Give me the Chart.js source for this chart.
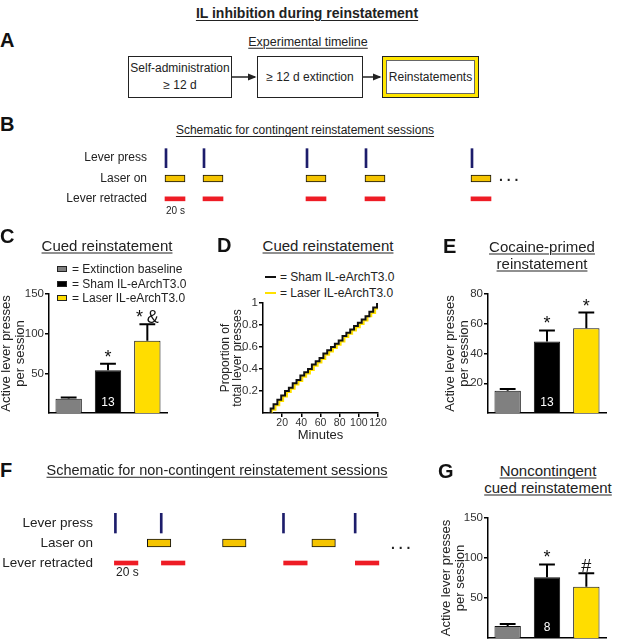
<!DOCTYPE html>
<html>
<head>
<meta charset="utf-8">
<script src="https://cdn.jsdelivr.net/npm/chart.js@4.4.0/dist/chart.umd.min.js"></script>
<style>
body { margin: 0; background: #fff; }
#fig { position: relative; width: 626px; height: 639px; overflow: hidden; font-family: "Liberation Sans", Arial, sans-serif; color: #222; }
.t { position: absolute; white-space: nowrap; line-height: 1; }
.c { transform: translate(-50%, -50%); text-align: center; }
.l { transform: translateY(-50%); }
.u { text-decoration: underline; text-underline-offset: 2px; text-decoration-thickness: 1px; }
.p { font-weight: bold; font-size: 20px; color: #111; }
.box { position: absolute; border: 1.5px solid #222; box-sizing: border-box; display: flex; align-items: center; justify-content: center; text-align: center; font-size: 12px; line-height: 1.4; white-space: nowrap; }
.sw { position: absolute; width: 10px; height: 6px; border: 1px solid #222; box-sizing: border-box; }
.ln { position: absolute; width: 11px; height: 2px; }
canvas { position: absolute; }
</style>
</head>
<body>
<div id="fig">
  <div class="t c" style="left:307px;top:13px;font-size:14px;font-weight:bold;text-decoration:underline;text-underline-offset:2px;">IL inhibition during reinstatement</div>

  <!-- A -->
  <div class="t l p" style="left:0;top:40px;">A</div>
  <div class="t c u" style="left:308px;top:42px;font-size:12.5px;">Experimental timeline</div>
  <div class="box" style="left:128px;top:56px;width:104px;height:42px;">Self-administration<br>≥ 12 d</div>
  <div class="box" style="left:257px;top:56px;width:106px;height:42px;">≥ 12 d extinction</div>
  <div style="position:absolute;left:382px;top:56px;width:97px;height:42px;box-sizing:border-box;border:1px solid #222;background:#ffe600;padding:3px;">
    <div style="width:100%;height:100%;box-sizing:border-box;border:1px solid #666;background:#fff;display:flex;align-items:center;justify-content:center;font-size:12px;">Reinstatements</div>
  </div>
  <svg width="626" height="639" style="position:absolute;left:0;top:0;pointer-events:none;">
    <defs><marker id="ah" markerWidth="6" markerHeight="6" refX="5" refY="3" orient="auto"><path d="M0,0.5 L6,3 L0,5.5 z" fill="#222"/></marker></defs>
    <line x1="232" y1="77" x2="255" y2="77" stroke="#222" stroke-width="1.5" marker-end="url(#ah)"/>
    <line x1="363" y1="77" x2="380" y2="77" stroke="#222" stroke-width="1.5" marker-end="url(#ah)"/>
  </svg>

  <!-- B -->
  <div class="t l p" style="left:0;top:124px;">B</div>
  <div class="t c u" style="left:305px;top:130px;font-size:12px;">Schematic for contingent reinstatement sessions</div>
  <canvas id="chartB" width="560" height="66" style="left:0;top:145px;"></canvas>
  <div class="t l" style="left:166px;top:211px;font-size:10px;">20 s</div>
  <div class="t l" style="left:499px;top:176px;font-size:14px;font-weight:bold;">. . .</div>

  <!-- C -->
  <div class="t l p" style="left:0;top:236px;">C</div>
  <div class="t c u" style="left:107px;top:245px;font-size:15px;">Cued reinstatement</div>
  <div class="sw" style="left:57px;top:266px;background:#808080;"></div>
  <div class="t l" style="left:72px;top:269px;font-size:12px;">= Extinction baseline</div>
  <div class="sw" style="left:57px;top:281px;background:#000;"></div>
  <div class="t l" style="left:72px;top:284px;font-size:12px;">= Sham IL-eArchT3.0</div>
  <div class="sw" style="left:57px;top:295px;background:#ffdd00;"></div>
  <div class="t l" style="left:72px;top:298px;font-size:12px;">= Laser IL-eArchT3.0</div>
  <canvas id="chartC" width="175" height="133" style="left:0;top:285px;"></canvas>

  <!-- D -->
  <div class="t l p" style="left:217px;top:245px;">D</div>
  <div class="t c u" style="left:328px;top:245px;font-size:15px;">Cued reinstatement</div>
  <div class="ln" style="left:265px;top:276px;background:#111;"></div>
  <div class="t l" style="left:280px;top:277px;font-size:12px;">= Sham IL-eArchT3.0</div>
  <div class="ln" style="left:265px;top:292px;background:#ffe100;"></div>
  <div class="t l" style="left:280px;top:293px;font-size:12px;">= Laser IL-eArchT3.0</div>
  <canvas id="chartD" width="200" height="150" style="left:200px;top:295px;"></canvas>

  <!-- E -->
  <div class="t l p" style="left:443px;top:246px;">E</div>
  <div class="t c u" style="left:542px;top:246px;font-size:15px;">Cocaine-primed</div>
  <div class="t c u" style="left:542px;top:263px;font-size:15px;">reinstatement</div>
  <canvas id="chartE" width="226" height="133" style="left:400px;top:285px;"></canvas>

  <!-- F -->
  <div class="t l p" style="left:0;top:470px;">F</div>
  <div class="t c u" style="left:217px;top:470px;font-size:14.5px;">Schematic for non-contingent reinstatement sessions</div>
  <canvas id="chartF" width="430" height="76" style="left:0;top:505px;"></canvas>
  <div class="t l" style="left:116px;top:572px;font-size:12px;">20 s</div>
  <div class="t l" style="left:391px;top:544px;font-size:14px;font-weight:bold;">. . .</div>

  <!-- G -->
  <div class="t l p" style="left:438px;top:471px;">G</div>
  <div class="t c u" style="left:548px;top:470px;font-size:15px;">Noncontingent</div>
  <div class="t c u" style="left:548px;top:487px;font-size:15px;">cued reinstatement</div>
  <canvas id="chartG" width="226" height="130" style="left:400px;top:509px;"></canvas>
</div>

<script>
// groups shared by the bar panels
const groups = ['Extinction baseline', 'Sham IL-eArchT3.0', 'Laser IL-eArchT3.0'];
const barFill = ['#808080', '#000000', '#ffdd00'];

// C: cued reinstatement
const cuedMean = [18, 54, 91];
const cuedSem = [1.5, 8, 21];
const cuedSig = ['', '*', '*\u2009&'];
const cuedN = ['', '13', ''];

// E: cocaine-primed reinstatement
const cocMean = [15, 48, 57];
const cocSem = [1.2, 7.5, 10.5];
const cocSig = ['', '*', '*'];
const cocN = ['', '13', ''];

// G: noncontingent cued reinstatement
const ncMean = [15, 76, 64];
const ncSem = [2.5, 16, 17];
const ncSig = ['', '*', '#'];
const ncN = ['', '8', ''];

// D: cumulative proportion of lever presses (minutes)
const shamMin = [5, 8, 11, 15, 19, 23, 27, 31, 35, 39, 43, 47, 51, 55, 59, 63, 67, 71, 75, 79, 83, 87, 91, 95, 99, 103, 107, 111, 115, 119];
const shamProp = [0.0, 0.04, 0.08, 0.12, 0.16, 0.20, 0.23, 0.27, 0.30, 0.34, 0.37, 0.40, 0.44, 0.47, 0.50, 0.54, 0.57, 0.60, 0.63, 0.66, 0.70, 0.73, 0.76, 0.79, 0.82, 0.85, 0.88, 0.92, 0.96, 1.0];
const laserMin = [6, 9, 13, 17, 21, 25, 29, 33, 37, 41, 45, 49, 53, 57, 61, 65, 69, 73, 77, 81, 85, 89, 93, 97, 101, 105, 109, 113, 117, 120];
const laserProp = [0.0, 0.03, 0.07, 0.11, 0.15, 0.19, 0.22, 0.26, 0.29, 0.33, 0.36, 0.39, 0.43, 0.46, 0.49, 0.53, 0.56, 0.59, 0.62, 0.65, 0.69, 0.72, 0.75, 0.78, 0.81, 0.84, 0.88, 0.91, 0.95, 1.0];

// schematic rows and event times (seconds)
const rows = ['Lever press', 'Laser on', 'Lever retracted'];
const cueDur = 20;
const bPress = [10, 48, 151, 210, 316];
const bLaser = [10, 48, 151, 210, 316];
const bRetract = [10, 48, 151, 210, 316];
const fPress = [8, 47, 151, 212];
const fLaser = [36, 100, 176];
const fRetract = [8, 48, 152, 213];

const FONT = '"Liberation Sans", Arial, sans-serif';
Chart.defaults.font.family = FONT;
Chart.defaults.color = '#222';

// force axis size and kill label padding so plot areas land where we want
function fix(size) {
    return function (s) {
        if (s.isHorizontal()) s.height = size; else s.width = size;
        s.paddingTop = s.paddingBottom = s.paddingLeft = s.paddingRight = 0;
    };
}
function dropZero(s) {
    s.ticks = s.ticks.filter(t => t.value !== 0);
}

const axisGrid = { display: true, drawOnChartArea: false, drawTicks: true, tickLength: 4, color: '#000', lineWidth: 1.5 };
const axisBorder = { display: true, color: '#000', width: 1.5 };

// error bars (upper only), significance marks and n labels
const errorBars = {
    id: 'errorBars',
    afterDatasetsDraw(chart, args, opts) {
        const ctx = chart.ctx;
        const y = chart.scales.y;
        const vals = chart.data.datasets[0].data;
        ctx.save();
        chart.getDatasetMeta(0).data.forEach((bar, i) => {
            const top = y.getPixelForValue(vals[i] + opts.sem[i]);
            const cap = bar.width * 0.3;
            ctx.strokeStyle = '#000';
            ctx.lineWidth = 2;
            ctx.beginPath();
            ctx.moveTo(bar.x, bar.y);
            ctx.lineTo(bar.x, top);
            ctx.moveTo(bar.x - cap, top);
            ctx.lineTo(bar.x + cap, top);
            ctx.stroke();
            ctx.textAlign = 'center';
            if (opts.sig[i]) {
                ctx.fillStyle = '#111';
                ctx.font = '18px ' + FONT;
                ctx.textBaseline = 'alphabetic';
                ctx.fillText(opts.sig[i], bar.x, top - 1);
            }
            if (opts.n[i]) {
                ctx.fillStyle = '#fff';
                ctx.font = '12px ' + FONT;
                ctx.textBaseline = 'middle';
                ctx.fillText(opts.n[i], bar.x, y.getPixelForValue(0) - 10);
            }
        });
        ctx.restore();
    }
};

function barPanel(id, mean, sem, sig, n, max, step, padLeft, padBottom) {
    return new Chart(document.getElementById(id), {
        type: 'bar',
        data: {
            labels: groups,
            datasets: [{
                data: mean,
                backgroundColor: barFill,
                borderColor: '#111',
                borderWidth: 1,
                barPercentage: 0.67,
                categoryPercentage: 1
            }]
        },
        options: {
            responsive: false,
            animation: false,
            devicePixelRatio: 1,
            layout: { padding: { left: padLeft, top: 9, right: id === 'chartC' ? 8 : 20, bottom: padBottom } },
            plugins: {
                legend: { display: false },
                tooltip: { enabled: false },
                errorBars: { sem: sem, sig: sig, n: n }
            },
            scales: {
                x: {
                    ticks: { display: false },
                    grid: { display: false },
                    border: axisBorder,
                    afterFit: fix(0)
                },
                y: {
                    min: 0,
                    max: max,
                    ticks: { stepSize: step, font: { size: 11.5 }, color: '#333', padding: 1 },
                    grid: axisGrid,
                    border: axisBorder,
                    title: {
                        display: true,
                        text: ['Active lever presses', 'per session'],
                        font: { size: 13, lineHeight: 1.05 },
                        color: '#222',
                        padding: { top: 0, bottom: 0 }
                    },
                    afterBuildTicks: dropZero,
                    afterFit: fix(id === 'chartC' ? 49 : 88 - padLeft)
                }
            }
        },
        plugins: [errorBars]
    });
}

barPanel('chartC', cuedMean, cuedSem, cuedSig, cuedN, 150, 50, 0, 5);
barPanel('chartE', cocMean, cocSem, cocSig, cocN, 80, 20, 44, 5);
barPanel('chartG', ncMean, ncSem, ncSig, ncN, 150, 50, 40, 1);

// D: step plot
new Chart(document.getElementById('chartD'), {
    type: 'line',
    data: {
        datasets: [{
            label: 'Sham IL-eArchT3.0',
            data: shamMin.map((m, i) => ({ x: m, y: shamProp[i] })),
            borderColor: '#111',
            borderWidth: 2,
            stepped: true,
            pointRadius: 0
        }, {
            label: 'Laser IL-eArchT3.0',
            data: laserMin.map((m, i) => ({ x: m, y: laserProp[i] })),
            borderColor: '#ffe100',
            borderWidth: 2,
            stepped: true,
            pointRadius: 0
        }]
    },
    options: {
        responsive: false,
        animation: false,
        devicePixelRatio: 1,
        layout: { padding: { left: 0, top: 8, right: 22, bottom: 0 } },
        plugins: { legend: { display: false }, tooltip: { enabled: false } },
        scales: {
            x: {
                type: 'linear',
                min: 0,
                max: 120,
                ticks: { stepSize: 20, font: { size: 10.5, lineHeight: 1.1 }, color: '#333', padding: 0, maxRotation: 0, autoSkip: false },
                grid: axisGrid,
                border: axisBorder,
                title: { display: true, text: 'Minutes', font: { size: 13, lineHeight: 1.1 }, color: '#222', padding: { top: 0, bottom: 2 } },
                afterBuildTicks: dropZero,
                afterFit: fix(32)
            },
            y: {
                min: 0,
                max: 1,
                ticks: { stepSize: 0.2, font: { size: 11.5 }, color: '#333', padding: 1, callback: v => String(Math.round(v * 10) / 10) },
                grid: axisGrid,
                border: axisBorder,
                title: { display: true, text: ['Proportion of', 'total lever presses'], font: { size: 12, lineHeight: 1 }, color: '#222', padding: { top: 20, bottom: 0 } },
                afterBuildTicks: dropZero,
                afterFit: fix(63)
            }
        }
    }
});

// B and F: event schematics as floating horizontal bars
function schematic(id, press, laser, retract, max, pressW, sizes, labelSize, yWidth, labelPad, pad) {
    return new Chart(document.getElementById(id), {
        type: 'bar',
        data: {
            labels: rows,
            datasets: [{
                data: press.map(t => ({ y: rows[0], x: [t, t + pressW] })),
                backgroundColor: '#1d1d6b',
                barThickness: sizes[0],
                grouped: false
            }, {
                data: laser.map(t => ({ y: rows[1], x: [t, t + cueDur] })),
                backgroundColor: '#f5c400',
                borderColor: '#111',
                borderWidth: 1,
                borderSkipped: false,
                barThickness: sizes[1],
                grouped: false
            }, {
                data: retract.map(t => ({ y: rows[2], x: [t, t + cueDur] })),
                backgroundColor: '#ee1c25',
                barThickness: sizes[2],
                grouped: false
            }]
        },
        options: {
            indexAxis: 'y',
            responsive: false,
            animation: false,
            devicePixelRatio: 1,
            layout: { padding: pad },
            plugins: { legend: { display: false }, tooltip: { enabled: false } },
            scales: {
                x: { type: 'linear', min: 0, max: max, display: false },
                y: {
                    type: 'category',
                    labels: rows,
                    grid: { display: false, drawTicks: false },
                    border: { display: false },
                    ticks: { font: { size: labelSize }, color: '#222', padding: labelPad },
                    afterFit: fix(yWidth)
                }
            }
        }
    });
}

schematic('chartB', bPress, bLaser, bRetract, 380, 2, [19, 7, 4], 12, 155, 8, { left: 0, top: 3, right: 25, bottom: 2 });
schematic('chartF', fPress, fLaser, fRetract, 268, 1.7, [20, 8, 4], 13.5, 105, 12, { left: 0, top: 8, right: 10, bottom: 8 });
</script>
</body>
</html>
